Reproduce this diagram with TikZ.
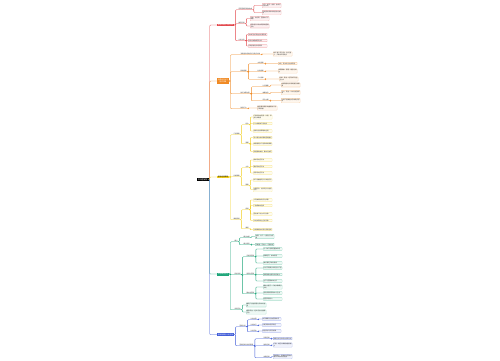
\documentclass[tikz,border=0pt]{standalone}
\usepackage{fontspec}
\setmainfont{Noto Sans CJK SC}
\XeTeXlinebreaklocale "zh"
\XeTeXlinebreakskip=0pt plus 1pt
\usetikzlibrary{positioning}
\definecolor{cred}{HTML}{E2474C}
\definecolor{corg}{HTML}{F08A24}
\definecolor{cyel}{HTML}{F2CF1D}
\definecolor{cgrn}{HTML}{1FA67A}
\definecolor{cblu}{HTML}{3F5BD8}
\tikzset{
  rootbox/.style={fill=black, text=white, font=\fontsize{1.9}{2.3}\selectfont, inner sep=0.9pt, anchor=west},
  topic/.style={fill=#1, text=white, font=\fontsize{1.7}{2.1}\selectfont, inner sep=0.7pt, anchor=west, align=center},
  sub/.style={font=\fontsize{1.5}{1.8}\selectfont, text=black!80, inner sep=0.4pt, anchor=west},
  leaf/.style={draw=#1!70, fill=#1!8, line width=0.2pt, rounded corners=0.4pt, font=\fontsize{1.5}{1.8}\selectfont,
    text=black!80, text width=18pt, align=left, inner sep=0.5pt, anchor=west},
  link/.style={draw=#1, line width=0.35pt, rounded corners=0.8pt},
}
\begin{document}
\begin{tikzpicture}[x=1pt, y=-1pt]
\useasboundingbox[fill=white] (0,0) rectangle (500,360);

% Root and main topics
\node[rootbox] (rt) at (197,179.5) {市场营销学};
\node[topic=cred] (red) at (217,25) {营销环境与市场分析};
\node[topic=corg] (org) at (217,81) {消费者行为与\\购买决策};
\node[topic=cyel, text=black] (yel) at (217,177) {营销组合策略};
\node[topic=cgrn] (grn) at (217,274) {市场细分定位};
\node[topic=cblu] (blu) at (217,334.5) {营销管理与计划控制};

\draw[link=cred] (rt.east) -- ++(1,0) |- (red.west);
\draw[link=corg] (rt.east) -- ++(1,0) |- (org.west);
\draw[link=cyel] (rt.east) -- ++(1,0) |- (yel.west);
\draw[link=cgrn] (rt.east) -- ++(1,0) |- (grn.west);
\draw[link=cblu] (rt.east) -- ++(1,0) |- (blu.west);

% Red branch
\node[sub] (r1) at (238,8.5) {宏观营销环境的构成};
\node[sub] (r2) at (238,22.5) {微观环境};
\node[sub] (r3) at (238,39.5) {分析方法};
\node[leaf=cred] (r1a) at (262,5.5) {人口、经济、自然、技术与社会文化};
\node[leaf=cred] (r1b) at (262,12.5) {环境变化带来市场机会与威胁};
\node[leaf=cred] (r2a) at (250,18.5) {企业、供应商、营销中介与顾客};
\node[leaf=cred] (r2b) at (250,26) {竞争者与公众共同影响营销活动};
\node[leaf=cred] (r3a) at (248,34.5) {SWOT分析评估内外部条件};
\node[leaf=cred] (r3b) at (248,40.5) {机会与威胁矩阵分析};
\node[leaf=cred] (r3c) at (248,46) {环境扫描与市场调研};
\foreach \s in {r1,r2,r3}
  \draw[link=cred] (red.east) -- ++(1.5,0) |- (\s.south west) -- (\s.south east);
\foreach \s/\l in {r1/r1a,r1/r1b,r2/r2a,r2/r2b,r3/r3a,r3/r3b,r3/r3c}
  \draw[link=cred] (\s.south east) -- ++(1.2,0) |- (\l.west);

% Orange branch
\node[sub] (o1) at (240,53.5) {消费者市场的特点与购买对象};
\node[sub] (o2) at (240,70.5) {影响因素};
\node[sub] (o3) at (240,92.5) {购买决策过程};
\node[sub] (o4) at (240,107.5) {购后行为};
\node[leaf=corg] (o1a) at (273,54) {购买者多而分散，购买量小，多属非专家购买};
\node[sub] (o2a) at (257,62.5) {文化因素};
\node[sub] (o2b) at (257,70.5) {社会因素};
\node[sub] (o2c) at (257,78) {个人因素};
\node[leaf=corg] (o2x) at (278,63.5) {文化、亚文化与社会阶层};
\node[leaf=corg] (o2y) at (278,71) {参照群体、家庭、角色与地位};
\node[leaf=corg] (o2z) at (279,79) {年龄、职业、经济状况与生活方式};
\node[sub] (o3a) at (262,85.5) {认识需要};
\node[sub] (o3b) at (262,92.5) {收集信息};
\node[sub] (o3c) at (262,99.5) {评价方案};
\node[leaf=corg] (o3x) at (281,85) {内部刺激与外部刺激引发需要};
\node[leaf=corg] (o3y) at (281,92.5) {个人、商业、公共与经验来源};
\node[leaf=corg] (o3z) at (281,100.5) {比较产品属性并形成购买意向};
\node[leaf=corg, text width=19pt] (o4a) at (257,108) {购后满意度影响重复购买与口碑传播};
\foreach \s in {o1,o2,o3,o4}
  \draw[link=corg] (org.east) -- ++(1.5,0) |- (\s.south west) -- (\s.south east);
\foreach \s/\l in {o2/o2a,o2/o2b,o2/o2c,o3/o3a,o3/o3b,o3/o3c}
  \draw[link=corg] (\s.south east) -- ++(1.2,0) |- (\l.south west) -- (\l.south east);
\foreach \s/\l in {o1/o1a,o4/o4a,o2a/o2x,o2b/o2y,o2c/o2z,o3a/o3x,o3b/o3y,o3c/o3z}
  \draw[link=corg] (\s.south east) -- ++(1.2,0) |- (\l.west);

% Yellow branch
\node[sub] (y1) at (233,133.5) {产品策略};
\node[sub] (y2) at (233,175.5) {价格策略};
\node[sub] (y3) at (233,218.5) {渠道促销};
\node[sub] (y1a) at (245,123.5) {组合};
\node[sub] (y1b) at (245,142.5) {周期};
\node[sub] (y2a) at (245,166.5) {方法};
\node[sub] (y2b) at (245,184.5) {策略};
\node[sub] (y3a) at (245,208.5) {促销};
\node[sub] (y3b) at (245,227.5) {渠道};
\node[leaf=cyel] (y1a1) at (253,117) {产品组合的宽度、长度、深度与关联度};
\node[leaf=cyel] (y1a2) at (253,123.5) {扩大或缩减产品组合};
\node[leaf=cyel] (y1a3) at (253,131) {品牌与包装策略的运用};
\node[leaf=cyel] (y1b1) at (253,137.5) {导入期与成长期的营销重点};
\node[leaf=cyel] (y1b2) at (253,144) {成熟期延长产品寿命的策略};
\node[leaf=cyel] (y1b3) at (253,151.5) {衰退期的维持、集中与放弃};
\node[leaf=cyel] (y2a1) at (253,160) {成本导向定价法};
\node[leaf=cyel] (y2a2) at (253,166.5) {需求导向定价法};
\node[leaf=cyel] (y2a3) at (253,173) {竞争导向定价法};
\node[leaf=cyel] (y2b1) at (253,180) {新产品撇脂定价与渗透定价};
\node[leaf=cyel] (y2b2) at (253,189.5) {心理定价、折扣定价与差别定价};
\node[leaf=cyel] (y3a1) at (253,200) {人员推销的特点与步骤};
\node[leaf=cyel] (y3a2) at (253,205.5) {广告媒体的选择};
\node[leaf=cyel] (y3a3) at (253,214) {营业推广的方式与对象};
\node[leaf=cyel] (y3a4) at (253,220.5) {公共关系树立企业形象};
\node[leaf=cyel] (y3b1) at (253,229.5) {分销渠道的长度与宽度选择};
\foreach \s in {y1,y2,y3}
  \draw[link=cyel] (yel.east) -- ++(1.5,0) |- (\s.south west) -- (\s.south east);
\foreach \s/\l in {y1/y1a,y1/y1b,y2/y2a,y2/y2b,y3/y3a,y3/y3b}
  \draw[link=cyel] (\s.south east) -- ++(1.2,0) |- (\l.south west) -- (\l.south east);
\foreach \s/\l in {y1a/y1a1,y1a/y1a2,y1a/y1a3,y1b/y1b1,y1b/y1b2,y1b/y1b3,y2a/y2a1,y2a/y2a2,y2a/y2a3,y2b/y2b1,y2b/y2b2,y3a/y3a1,y3a/y3a2,y3a/y3a3,y3a/y3a4,y3b/y3b1}
  \draw[link=cyel] (\s.south east) -- ++(1.2,0) |- (\l.west);

% Green branch
\node[sub] (g1) at (234,240.5) {细分};
\node[sub] (g2) at (234,273.5) {目标市场};
\node[sub] (g3) at (234,308.5) {市场定位};
\node[sub] (g1a) at (243,236.5) {细分依据};
\node[sub] (g1b) at (243,243.5) {细分原则};
\node[leaf=cgrn] (g1x) at (255,236.5) {地理、人口、心理与行为变量};
\node[leaf=cgrn] (g1y) at (255,244.5) {可衡量、可进入、可盈利性};
\node[sub] (g2a) at (246,255.5) {无差异营销};
\node[sub] (g2b) at (246,273.5) {差异化营销};
\node[sub] (g2c) at (246,292.5) {集中性营销};
\node[leaf=cgrn] (g2a1) at (263,249) {以一种产品满足整体市场};
\node[leaf=cgrn] (g2a2) at (263,256) {规模经济，成本较低};
\node[leaf=cgrn] (g2a3) at (263,263) {难以满足多样化需求};
\node[leaf=cgrn] (g2b1) at (263,268) {针对不同细分市场设计产品};
\node[leaf=cgrn] (g2b2) at (263,274.5) {提高销售总额与适应能力};
\node[leaf=cgrn] (g2b3) at (263,281) {生产与营销成本上升};
\node[leaf=cgrn] (g2c1) at (263,287) {集中力量于一个或少数细分市场};
\node[leaf=cgrn] (g2c2) at (263,293) {适合资源有限的中小企业};
\node[leaf=cgrn] (g2c3) at (263,299) {经营风险较大};
\node[leaf=cgrn, text width=19pt] (g3a) at (246,305) {确定产品在顾客心目中的位置};
\node[leaf=cgrn, text width=19pt] (g3b) at (246,312) {避强定位、迎头定位与重新定位};
\foreach \s in {g1,g2,g3}
  \draw[link=cgrn] (grn.east) -- ++(1.5,0) |- (\s.south west) -- (\s.south east);
\foreach \s/\l in {g1/g1a,g1/g1b,g2/g2a,g2/g2b,g2/g2c}
  \draw[link=cgrn] (\s.south east) -- ++(1.2,0) |- (\l.south west) -- (\l.south east);
\foreach \s/\l in {g1a/g1x,g1b/g1y,g3/g3a,g3/g3b,g2a/g2a1,g2a/g2a2,g2a/g2a3,g2b/g2b1,g2b/g2b2,g2b/g2b3,g2c/g2c1,g2c/g2c2,g2c/g2c3}
  \draw[link=cgrn] (\s.south east) -- ++(1.2,0) |- (\l.west);

% Blue branch
\node[sub] (b1) at (239,325.5) {营销计划};
\node[sub] (b2) at (239,344.5) {营销控制与组织管理};
\node[sub] (b1a) at (250,318.5) {计划内容};
\node[sub] (b1b) at (250,324.5) {计划执行};
\node[sub] (b1c) at (250,330.5) {计划评估};
\node[leaf=cblu] (b1x) at (262,319) {执行概要与当前营销状况};
\node[leaf=cblu] (b1y) at (262,325) {分配资源并落实责任};
\node[leaf=cblu] (b1z) at (262,331) {检查目标与实际结果};
\node[sub] (b2a) at (263,337.5) {年度控制};
\node[sub] (b2b) at (263,344.5) {盈利控制};
\node[sub] (b2c) at (263,356.5) {战略控制};
\node[leaf=cblu] (b2x) at (273,338.5) {销售分析与市场占有率分析};
\node[leaf=cblu] (b2y) at (273,345) {产品、地区与渠道的盈利能力};
\node[leaf=cblu] (b2z) at (273,356.5) {营销审计，定期评价营销战略与环境的适应程度};
\foreach \s in {b1,b2}
  \draw[link=cblu] (blu.east) -- ++(1.5,0) |- (\s.south west) -- (\s.south east);
\foreach \s/\l in {b1/b1a,b1/b1b,b1/b1c,b2/b2a,b2/b2b,b2/b2c}
  \draw[link=cblu] (\s.south east) -- ++(1.2,0) |- (\l.south west) -- (\l.south east);
\foreach \s/\l in {b1a/b1x,b1b/b1y,b1c/b1z,b2a/b2x,b2b/b2y,b2c/b2z}
  \draw[link=cblu] (\s.south east) -- ++(1.2,0) |- (\l.west);
\end{tikzpicture}
\end{document}
